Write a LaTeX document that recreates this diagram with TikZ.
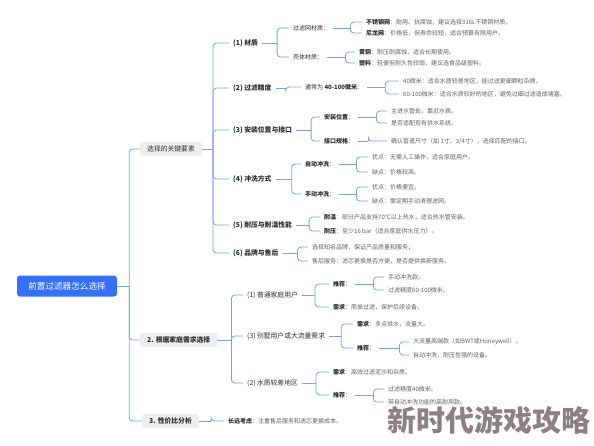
\documentclass[tikz,border=0pt]{standalone}
\usepackage{fontspec}
\setmainfont{Noto Sans CJK SC}
\usetikzlibrary{positioning,calc}
\definecolor{ink}{RGB}{45,45,45}
\definecolor{dim}{RGB}{95,95,95}
\definecolor{wire}{RGB}{126,160,222}
\definecolor{rootblue}{RGB}{52,112,250}
\definecolor{keybg}{RGB}{238,238,240}
\definecolor{wmark}{RGB}{140,128,132}
\tikzset{
  rootbox/.style={fill=rootblue,rounded corners=3pt,text=white,font=\fontsize{8.6}{10}\selectfont,
    minimum width=100pt,minimum height=21pt,inner sep=0pt},
  keybox/.style={anchor=west,fill=keybg,rounded corners=2pt,text=ink,font=\fontsize{6.8}{8}\selectfont,
    minimum height=14pt,inner xsep=7pt,inner ysep=0pt},
  cat/.style={anchor=west,text=ink,font=\fontsize{6.8}{8}\selectfont\bfseries,inner xsep=4pt,inner ysep=1pt},
  lbl/.style={anchor=west,text=ink,font=\fontsize{6}{7}\selectfont,inner xsep=4pt,inner ysep=1pt},
  txt/.style={anchor=west,text=dim,font=\fontsize{6}{7}\selectfont,inner xsep=4pt,inner ysep=1pt},
  link/.style={draw=wire,line width=0.8pt},
}
\newcommand{\keyw}[1]{{\color{ink}\bfseries #1}}
% parent -> bracket -> children
\newcommand{\fork}[3]{%
  \draw[link] (#1.east) -- ++(#2,0) coordinate (#1-k);
  \foreach \c in {#3} \draw[link,rounded corners=3.5pt] (#1-k) |- (\c.west);
}

\begin{document}
\begin{tikzpicture}[x=1pt,y=-1pt]
\useasboundingbox (0,0) rectangle (594,445);
% root and the three main branches
\node[rootbox] (root) at (67,286) {前置过滤器怎么选择};
\node[keybox] (kA) at (140,149) {选择的关键要素};
\node[keybox,font=\fontsize{6.8}{8}\selectfont\bfseries] (kB) at (140,340) {2. 根据家庭需求选择};
\node[keybox,font=\fontsize{6.8}{8}\selectfont\bfseries] (kC) at (142,421) {3. 性价比分析};
\fork{root}{12}{kA,kB,kC}

% key factors
\node[cat] (a1) at (229,43) {(1) 材质};
\node[cat] (a2) at (229,88) {(2) 过滤精度};
\node[cat] (a3) at (229,130) {(3) 安装位置与接口};
\node[cat] (a4) at (229,179) {(4) 冲洗方式};
\node[cat] (a5) at (229,225) {(5) 耐压与耐温性能};
\node[cat] (a6) at (229,253) {(6) 品牌与售后};
\fork{kA}{11}{a1,a2,a3,a4,a5,a6}

% (1) material
\node[lbl] (a1x) at (289,28) {过滤网材质：};
\node[lbl] (a1y) at (289,57) {壳体材质：};
\fork{a1}{15}{a1x,a1y}
\node[txt] (a1x1) at (362,22) {\keyw{不锈钢网}：耐用、抗腐蚀，建议选择316L不锈钢材质。};
\node[txt] (a1x2) at (362,33) {\keyw{尼龙网}：价格低，但寿命较短，适合预算有限用户。};
\fork{a1x}{17}{a1x1,a1x2}
\node[txt] (a1y1) at (355,52) {\keyw{黄铜}：耐压耐腐蚀，适合长期使用。};
\node[txt] (a1y2) at (355,63) {\keyw{塑料}：轻便但耐久性较弱，建议选食品级塑料。};
\fork{a1y}{18}{a1y1,a1y2}

% (2) precision
\node[lbl] (a2x) at (301,87) {通常为 \keyw{40-100微米}：};
\fork{a2}{10}{a2x}
\node[txt] (a2x1) at (399,81) {40微米：适合水质较差地区，能过滤更细颗粒杂质。};
\node[txt] (a2x2) at (399,94) {60-100微米：适合水质较好的地区，避免过细过滤造成堵塞。};
\fork{a2x}{18}{a2x1,a2x2}

% (3) position and connection
\node[lbl] (a3x) at (320,117) {\keyw{安装位置}：};
\node[lbl] (a3y) at (320,141) {\keyw{接口规格}：};
\fork{a3}{15}{a3x,a3y}
\node[txt] (a3x1) at (387,111) {主进水管处，靠近水表。};
\node[txt] (a3x2) at (387,123) {是否适配现有供水系统。};
\fork{a3x}{18}{a3x1,a3x2}
\node[txt] (a3y1) at (387,141) {确认管道尺寸（如 1寸、3/4寸），选择匹配的接口。};
\fork{a3y}{10}{a3y1}

% (4) flushing
\node[lbl] (a4x) at (301,164) {\keyw{自动冲洗}：};
\node[lbl] (a4y) at (301,194) {\keyw{手动冲洗}：};
\fork{a4}{16}{a4x,a4y}
\node[txt] (a4x1) at (368,157) {优点：无需人工操作，适合家庭用户。};
\node[txt] (a4x2) at (368,172) {缺点：价格较高。};
\fork{a4x}{17}{a4x1,a4x2}
\node[txt] (a4y1) at (368,187) {优点：价格便宜。};
\node[txt] (a4y2) at (368,201) {缺点：需定期手动清理滤网。};
\fork{a4y}{17}{a4y1,a4y2}

% (5) pressure and temperature
\node[txt] (a5x1) at (320,217) {\keyw{耐温}：部分产品支持70℃以上热水，适合热水管安装。};
\node[txt] (a5x2) at (320,231) {\keyw{耐压}：至少16 bar（适合家庭供水压力）。};
\fork{a5}{13}{a5x1,a5x2}

% (6) brand
\node[txt] (a6x1) at (308,247) {选择知名品牌，保证产品质量和服务；};
\node[txt] (a6x2) at (308,261) {售后服务：滤芯更换是否方便，是否提供换新服务。};
\fork{a6}{15}{a6x1,a6x2}

% by household
\node[cat,font=\fontsize{6.8}{8}\selectfont] (b1) at (243,295) {(1) 普通家庭用户};
\node[cat,font=\fontsize{6.8}{8}\selectfont] (b2) at (243,336) {(3) 别墅用户或大流量需求};
\node[cat,font=\fontsize{6.8}{8}\selectfont] (b3) at (243,383) {(2) 水质较差地区};
\fork{kB}{14}{b1,b2,b3}

\node[lbl] (b1x) at (329,284) {\keyw{推荐}：};
\node[txt] (b1y) at (329,307) {\keyw{需求}：简单过滤，保护后续设备。};
\fork{b1}{13}{b1x,b1y}
\node[txt] (b1x1) at (384,277) {手动冲洗款。};
\node[txt] (b1x2) at (384,290) {过滤精度60-100微米。};
\fork{b1x}{18}{b1x1,b1x2}

\node[txt] (b2x) at (353,324) {\keyw{需求}：多点供水，流量大。};
\node[lbl] (b2y) at (353,348) {\keyw{推荐}：};
\fork{b2}{12}{b2x,b2y}
\node[txt] (b2y1) at (409,342) {大流量高端款（如BWT或Honeywell）。};
\node[txt] (b2y2) at (409,355) {自动冲洗，耐压性强的设备。};
\fork{b2y}{20}{b2y1,b2y2}

\node[txt] (b3x) at (329,372) {\keyw{需求}：高效过滤泥沙和杂质。};
\node[lbl] (b3y) at (329,395) {\keyw{推荐}：};
\fork{b3}{14}{b3x,b3y}
\node[txt] (b3y1) at (384,389) {过滤精度40微米。};
\node[txt] (b3y2) at (384,402) {带自动冲洗功能的高耐用款。};
\fork{b3y}{18}{b3y1,b3y2}

% value for money
\node[txt] (c1) at (224,421) {\keyw{长远考虑}：注重售后服务和滤芯更换成本。};
\fork{kC}{12}{c1}

% watermark
\node[text=wmark,font=\fontsize{29}{30}\selectfont\bfseries,inner sep=0pt] (wm) at (489,420) {新时代游戏攻略};
\end{tikzpicture}
\end{document}
